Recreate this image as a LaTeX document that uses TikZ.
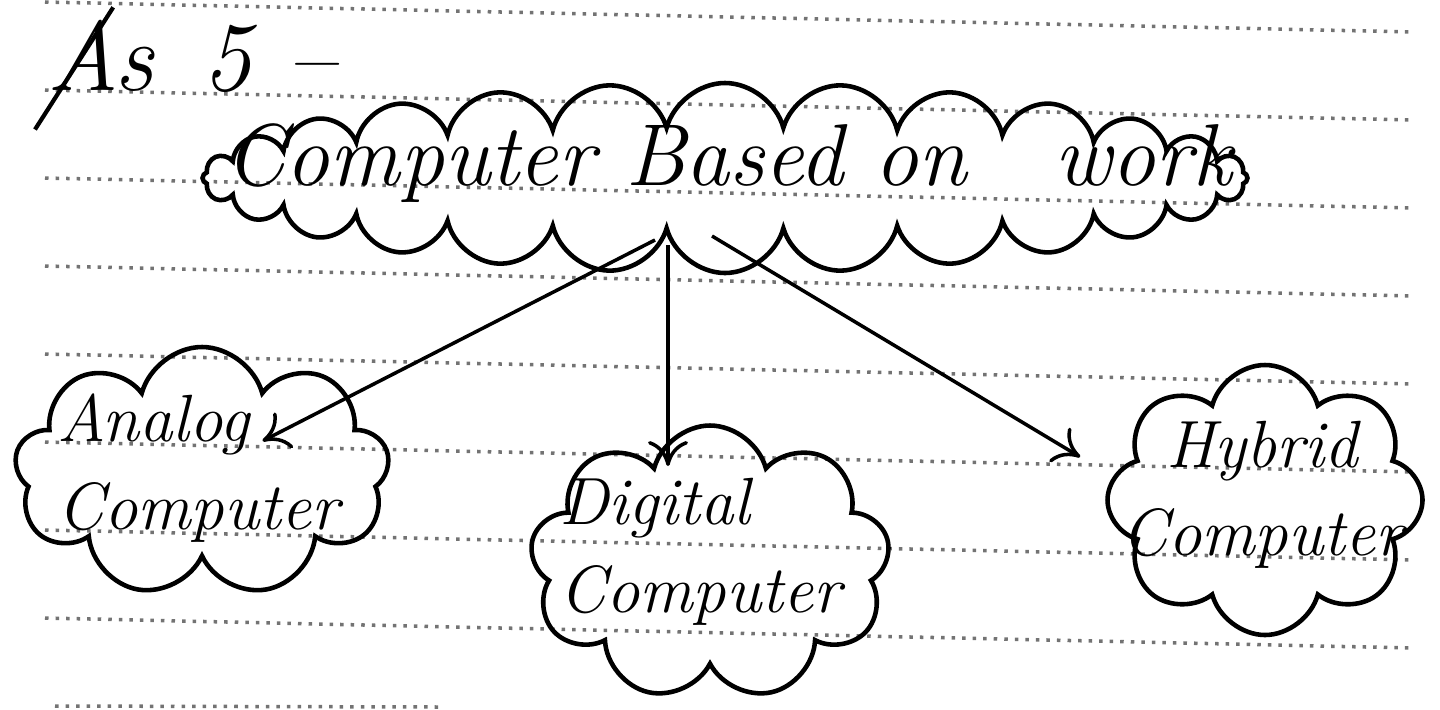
\documentclass[tikz,border=0pt]{standalone}
\usetikzlibrary{shapes.symbols,calc,arrows.meta}
\tikzset{
  cloudbox/.style={cloud, draw, cloud ignores aspect, line width=1.3pt},
  hand/.style={font=\fontsize{19}{25}\selectfont\itshape, align=center},
  ruled/.style={black!55, dotted, line width=1pt},
  arrow/.style={->, >={To[length=2.5mm,width=4mm]}, line width=1pt}
}
\begin{document}
\begin{tikzpicture}[x=0.1mm,y=-0.1mm]
\useasboundingbox (0,0) rectangle (1440,709);
\foreach \i in {0,...,7}
  \draw[ruled] (45,2+88*\i) -- (1412,32+88*\i);
\draw[ruled] (55,706) -- (440,707);
\node[anchor=base west, font=\fontsize{28}{32}\selectfont\itshape] (qno) at (35,90) {As\enspace 5 --};
\draw[line width=1.2pt] ($(qno.south west)+(0,25)$) -- ($(qno.north west)!.25!(qno.north east)$);
\node[cloudbox, cloud puffs=28, minimum width=10.45cm, minimum height=1.9cm] (base) at (725,178) {};
\node[hand, font=\fontsize{25}{30}\selectfont\itshape] (basetxt) at (728,163) {Computer Based on\quad work};
\node[cloudbox, cloud puffs=9, minimum width=3.75cm, minimum height=2.5cm] (analog) at (202,472) {};
\node[hand, align=left] (analogtxt) at (198,468) {Analog\\Computer};
\node[cloudbox, cloud puffs=9, minimum width=3.6cm, minimum height=2.75cm] (digital) at (710,563) {};
\node[hand, align=left] (digitaltxt) at (700,552) {Digital\\Computer};
\node[cloudbox, cloud puffs=8, minimum width=3.15cm, minimum height=2.7cm] (hybrid) at (1265,500) {};
\node[hand] (hybridtxt) at (1262,495) {Hybrid\\Computer};
\coordinate (forkL) at ($(base.center)+(-70,62)$);
\coordinate (forkM) at ($(base.center)+(-57,67)$);
\coordinate (forkR) at ($(base.center)+(-13,58)$);
\draw[arrow] (forkL) -- ($(analog.center)!6.8mm!(forkL)$);
\draw[arrow] (forkM) -- (forkM |- digitaltxt.north);
\draw[arrow] (forkR) -- ($(hybrid.west)+(-25,-43)$);
\end{tikzpicture}
\end{document}
